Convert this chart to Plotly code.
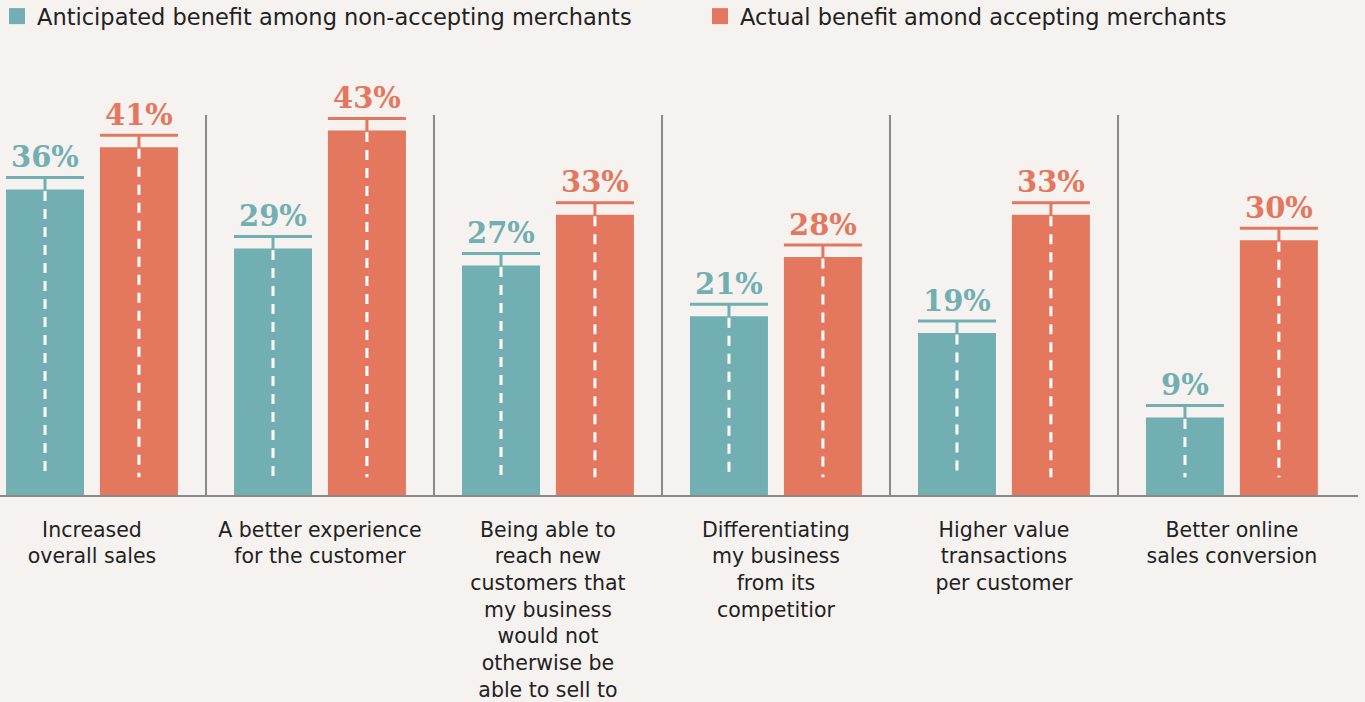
import plotly.graph_objects as go

categories = [
    "Increased<br>overall sales",
    "A better experience<br>for the customer",
    "Being able to<br>reach new<br>customers that<br>my business<br>would not<br>otherwise be<br>able to sell to",
    "Differentiating<br>my business<br>from its<br>competitior",
    "Higher value<br>transactions<br>per customer",
    "Better online<br>sales conversion",
]
anticipated = [36, 29, 27, 21, 19, 9]
actual = [41, 43, 33, 28, 33, 30]
series_names = [
    "Anticipated benefit among non-accepting merchants",
    "Actual benefit amond accepting merchants",
]

TEAL = "#72AFB3"
ORANGE = "#E4785F"
BG = "#F6F2EF"
CAP = 1.6       # cap height above bar (in % units)
CAP_PX = 14     # same, in pixels, for label placement
OFF = 0.206     # bar offset from group centre
BW = 0.342      # bar width
DASH_BOTTOM = 2.1

idx = list(range(len(categories)))
fig = go.Figure()

for k, (vals, color, name, sgn) in enumerate([(anticipated, TEAL, series_names[0], -1),
                                               (actual, ORANGE, series_names[1], 1)]):
    xs = [i + sgn * OFF for i in idx]
    fig.add_trace(go.Bar(
        x=xs, y=vals, width=BW, name=name, showlegend=False,
        marker=dict(color=color, line=dict(width=0)),
        error_y=dict(type="constant", value=CAP, symmetric=False, valueminus=0,
                     color=color, thickness=3, width=39),
        cliponaxis=False, hoverinfo="skip",
    ))
    lx, ly = [], []
    for x, v in zip(xs, vals):
        lx += [x, x, None]
        ly += [v, DASH_BOTTOM, None]
    fig.add_trace(go.Scatter(
        x=lx, y=ly, mode="lines", showlegend=False, hoverinfo="skip",
        line=dict(color="white", width=3, dash="10px,8px"),
    ))
    # legend entry (square swatch)
    fig.add_trace(go.Scatter(
        x=[None], y=[None], mode="markers", name=name, showlegend=True,
        marker=dict(symbol="square", size=18, color=color),
        legendwidth=658 if k == 0 else 500,
    ))
    for x, v in zip(xs, vals):
        fig.add_annotation(
            x=x, y=v, text=f"{v}%", showarrow=False,
            xanchor="center", yanchor="bottom", yshift=CAP_PX + 1,
            font=dict(family="DejaVu Serif", size=29, color=color, weight="bold"),
        )

fig.update_layout(
    width=1365, height=702,
    paper_bgcolor=BG, plot_bgcolor=BG,
    margin=dict(l=0, r=7, t=115, b=207, autoexpand=False),
    barmode="overlay",
    showlegend=True,
    legend=dict(orientation="h", x=-0.0022, y=1.3158, xref="paper", yref="paper",
                xanchor="left", yanchor="top", itemsizing="trace",
                font=dict(family="DejaVu Sans", size=22.5, color="#222"),
                bgcolor="rgba(0,0,0,0)"),
    xaxis=dict(
        range=[-0.4035, 5.553], tickvals=idx, ticktext=categories,
        showgrid=False, zeroline=False, showline=True, linecolor="#8a8a8a", linewidth=2,
        ticks="", ticklabelstandoff=15,
        tickfont=dict(family="DejaVu Sans", size=20.5, color="#222"),
        minor=dict(tickvals=[i + 0.5 for i in idx[:-1]], showgrid=True,
                   gridcolor="#8a8a8a", gridwidth=1.5, ticks=""),
    ),
    yaxis=dict(range=[0, 45], showgrid=False, zeroline=False, showticklabels=False,
               showline=False),
)

fig.write_html("out.html", config={"displayModeBar": False},
               post_script="document.body.style.margin='0';")
